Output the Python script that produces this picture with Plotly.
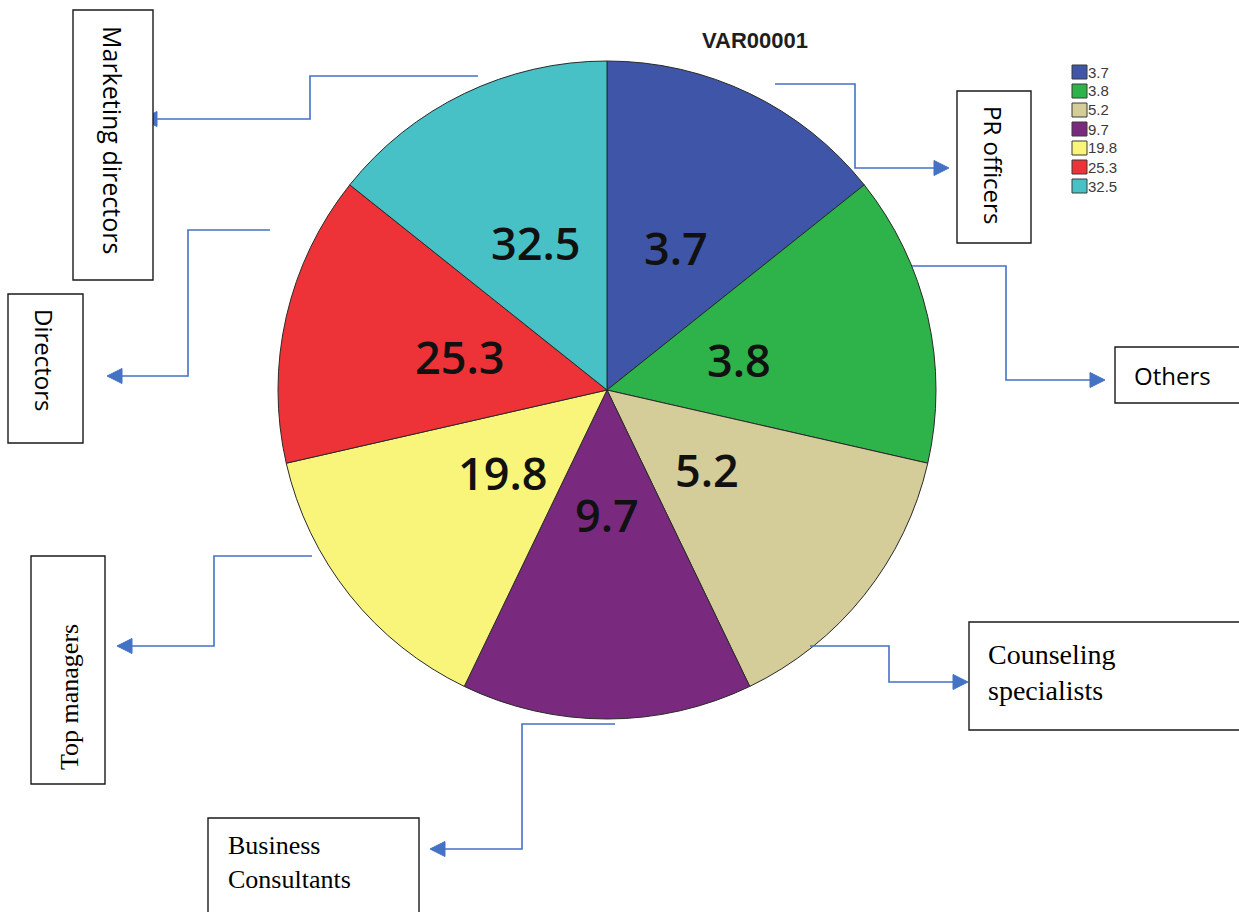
import math
import plotly.graph_objects as go

W, H = 1239, 912

# VAR00001 categories, one case each
categories = ["3.7", "3.8", "5.2", "9.7", "19.8", "25.3", "32.5"]
counts = [1, 1, 1, 1, 1, 1, 1]
colors = ["#3F56A8", "#2EB34A", "#D4CD99", "#7A2A7E", "#F8F57A", "#EE3338", "#47C1C6"]

# Group names attached to the slices by call-out boxes
groups = ["PR officers", "Others", "Counseling<br>specialists", "Business<br>Consultants",
          "Top managers", "Directors", "Marketing directors"]

# ---- layout constants (pixels) ----
CX, CY, R = 607, 390, 329
LABEL_R = [158, 135, 128, 124, 133, 151, 164]   # distance of each value label from the centre
LINE_BLUE = "#4472C4"


def X(px):
    return px / W


def Y(py):
    return 1 - py / H


fig = go.Figure()
fig.add_trace(go.Pie(
    labels=categories,
    values=counts,
    sort=False,
    direction="clockwise",
    rotation=0,
    textinfo="none",
    hoverinfo="label",
    marker=dict(colors=colors, line=dict(color="#2a2a2a", width=1)),
    domain=dict(x=[X(CX - R), X(CX + R)], y=[Y(CY + R), Y(CY - R)]),
    showlegend=False,
))

annotations = []
shapes = []

# value labels at the middle angle of each slice
total = sum(counts)
acc = 0
for i, (cat, c) in enumerate(zip(categories, counts)):
    mid = (acc + c / 2) / total * 2 * math.pi
    acc += c
    lx = CX + LABEL_R[i] * math.sin(mid)
    ly = CY - LABEL_R[i] * math.cos(mid)
    annotations.append(dict(
        x=X(lx), y=Y(ly), xref="paper", yref="paper", text=cat, showarrow=False,
        xanchor="center", yanchor="middle",
        font=dict(family="Open Sans", size=45, color="#111", weight=600),
    ))

# title
annotations.append(dict(
    x=X(755), y=Y(41), xref="paper", yref="paper", text="<b>VAR00001</b>", showarrow=False,
    xanchor="center", yanchor="middle",
    font=dict(family="Arial, Liberation Sans", size=22, color="#1e1e1e"),
))

# legend: swatch + value
for i, (cat, col) in enumerate(zip(categories, colors)):
    yc = 72 + 19 * i
    shapes.append(dict(type="rect", xref="paper", yref="paper",
                       x0=X(1072), x1=X(1087), y0=Y(yc + 7), y1=Y(yc - 7),
                       fillcolor=col, line=dict(color="#3a3a3a", width=1)))
    annotations.append(dict(
        x=X(1088), y=Y(yc), xref="paper", yref="paper", text=cat, showarrow=False,
        xanchor="left", yanchor="middle", borderpad=0, borderwidth=0,
        font=dict(family="Arial, Liberation Sans", size=15, color="#3a3a3a"),
    ))

# elbow connectors from the pie to the boxes (last point is the arrow tip)
connectors = [
    [(775, 84), (855, 84), (855, 168), (949, 168)],
    [(912, 266), (1006, 266), (1006, 380), (1105, 380)],
    [(810, 646), (889, 646), (889, 682), (968, 682)],
    [(615, 724), (522, 724), (522, 849), (430, 849)],
    [(312, 556), (214, 556), (214, 646), (117, 646)],
    [(270, 230), (188, 230), (188, 376), (107, 376)],
    [(478, 76), (310, 76), (310, 119), (142, 119)],
]
HEAD_L, HEAD_W = 15, 7.5
for pts in connectors:
    (px, py), (tx, ty) = pts[-2], pts[-1]
    d = math.hypot(tx - px, ty - py)
    ux, uy = (tx - px) / d, (ty - py) / d
    bx, by = tx - ux * HEAD_L, ty - uy * HEAD_L
    line_pts = pts[:-1] + [(bx, by)]
    path = "M " + " L ".join(f"{X(a):.5f},{Y(b):.5f}" for a, b in line_pts)
    shapes.append(dict(type="path", xref="paper", yref="paper", path=path,
                       line=dict(color=LINE_BLUE, width=1.6)))
    nx, ny = -uy, ux
    tri = [(tx, ty), (bx + nx * HEAD_W, by + ny * HEAD_W), (bx - nx * HEAD_W, by - ny * HEAD_W)]
    tpath = "M " + " L ".join(f"{X(a):.5f},{Y(b):.5f}" for a, b in tri) + " Z"
    shapes.append(dict(type="path", xref="paper", yref="paper", path=tpath,
                       fillcolor=LINE_BLUE, line=dict(color=LINE_BLUE, width=1)))

# call-out boxes: (x0, y0, x1, y1), text anchor, angle, font
SANS = "Open Sans"
SERIF = "Liberation Serif, Times New Roman"
boxes = [
    dict(rect=(957, 91, 1031, 243), pos=(994, 165), anchor="center", angle=90, family=SANS, size=24),
    dict(rect=(1115, 347, 1250, 403), pos=(1134, 376), anchor="left", angle=0, family=SANS, size=24),
    dict(rect=(969, 622, 1250, 730), pos=(988, 672), anchor="left", angle=0, family=SERIF, size=28),
    dict(rect=(208, 818, 419, 930), pos=(228, 862), anchor="left", angle=0, family=SERIF, size=26),
    dict(rect=(31, 556, 105, 784), pos=(69, 697), anchor="center", angle=-90, family=SERIF, size=26),
    dict(rect=(8, 294, 83, 443), pos=(45, 360), anchor="center", angle=90, family=SANS, size=24),
    dict(rect=(73, 10, 153, 280), pos=(113, 140), anchor="center", angle=90, family=SANS, size=25),
]
for name, b in zip(groups, boxes):
    x0, y0, x1, y1 = b["rect"]
    shapes.append(dict(type="rect", xref="paper", yref="paper",
                       x0=X(x0), x1=X(x1), y0=Y(y1), y1=Y(y0),
                       fillcolor="white", line=dict(color="#1a1a1a", width=1.4)))
    annotations.append(dict(
        x=X(b["pos"][0]), y=Y(b["pos"][1]), xref="paper", yref="paper", text=name,
        showarrow=False, xanchor=b["anchor"], yanchor="middle", align="left",
        textangle=b["angle"], borderpad=0, borderwidth=0,
        font=dict(family=b["family"], size=b["size"], color="#000"),
    ))

fig.update_layout(
    width=W, height=H,
    margin=dict(l=0, r=0, t=0, b=0),
    paper_bgcolor="white",
    plot_bgcolor="white",
    showlegend=False,
    shapes=shapes,
    annotations=annotations,
)

fig.write_html("out.html")
